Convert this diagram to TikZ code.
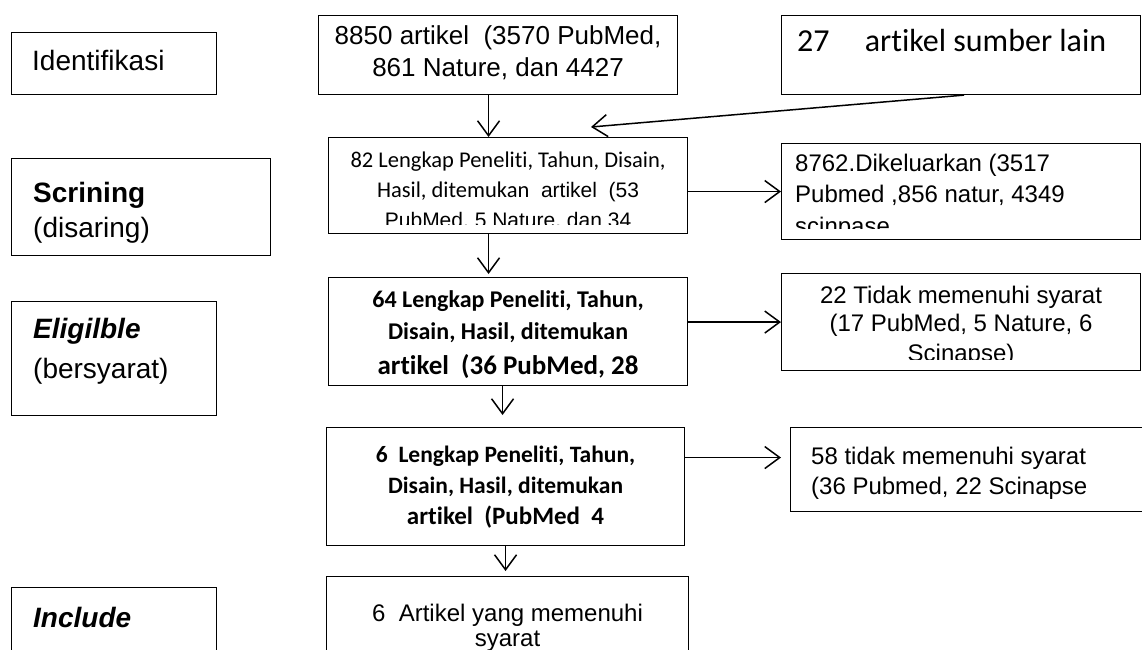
\documentclass[tikz,border=0pt]{standalone}
\usepackage{fontspec}
\setmainfont{Liberation Sans}
\newfontfamily\calibri[Ligatures=NoCommon,RawFeature=-liga,RawFeature=-clig,RawFeature=-calt]{Carlito}
\usetikzlibrary{positioning,calc,arrows.meta}

\begin{document}
\begin{tikzpicture}[x=1pt,y=-1pt,
    box/.style={draw,line width=1.1pt,inner sep=0pt,anchor=north west},
    arr/.style={line width=1.5pt,-{Straight Barb[length=15pt,width=22pt,line width=1.5pt]}},
    txt/.style={inner sep=0pt,anchor=base,font=\fontsize{24}{28}\selectfont},
    ltxt/.style={txt,anchor=base west},
    lbl/.style={inner sep=0pt,anchor=base west,font=\fontsize{28}{32}\selectfont}]

    \useasboundingbox (0,0) rectangle (1142,649);

    % left column
    \node[box,minimum width=205pt,minimum height=62pt] (ident) at (11,32) {};
    \node[box,minimum width=259pt,minimum height=97pt] (scr) at (11,158) {};
    \node[box,minimum width=205pt,minimum height=114pt] (elig) at (11,301) {};
    \node[box,minimum width=205pt,minimum height=70pt] (incl) at (11,587) {};

    \node[lbl] (tident) at ($(ident.north west)+(21,38)$) {Identifikasi};
    \node[lbl] (tscr1) at ($(scr.north west)+(22,44)$) {\textbf{Scrining}};
    \node[lbl] (tscr2) at ($(scr.north west)+(22,79)$) {(disaring)};
    \node[lbl] (telig1) at ($(elig.north west)+(22,37)$) {\textbf{\textit{Eligilble}}};
    \node[lbl] (telig2) at ($(elig.north west)+(22,77)$) {(bersyarat)};
    \node[lbl] (tincl) at ($(incl.north west)+(22,40)$) {\textbf{\textit{Include}}};

    % middle column
    \node[box,minimum width=359pt,minimum height=79pt] (n8850) at (318,15) {};
    \node[box,minimum width=359pt,minimum height=96pt] (n82) at (328,137) {};
    \node[box,minimum width=359pt,minimum height=108pt] (n64) at (328,277) {};
    \node[box,minimum width=358pt,minimum height=118pt] (n6) at (326,427) {};
    \node[box,minimum width=362pt,minimum height=80pt] (nfinal) at (326,576) {};

    \node[txt,font=\fontsize{26}{30}\selectfont] (t8850a) at ($(n8850.north)+(0,29)$) {8850 artikel\ \ (3570 PubMed,};
    \node[txt,font=\fontsize{26}{30}\selectfont] (t8850b) at ($(n8850.north)+(0,61)$) {861 Nature, dan 4427};

    \node[txt,font=\calibri\fontsize{22.5}{27}\selectfont] (t82a) at ($(n82.north)+(0,30)$) {82 Lengkap Peneliti, Tahun, Disain,};
    \node[txt,font=\fontsize{21}{25}\selectfont] (t82b) at ($(n82.north)+(0,60)$) {{\calibri\fontsize{22.5}{27}\selectfont Hasil, ditemukan}\ \ artikel\ \ (53};
    \begin{scope}
        \clip (n82.north west) rectangle ($(n82.south east)+(0,-10)$);
        \node[txt,font=\fontsize{21}{25}\selectfont] (t82c) at ($(n82.north)+(0,90)$) {PubMed, 5 Nature, dan 34};
    \end{scope}

    \node[txt,font=\calibri\bfseries\fontsize{24}{28}\selectfont] (t64a) at ($(n64.north)+(0,30)$) {64 Lengkap Peneliti, Tahun,};
    \node[txt,font=\calibri\bfseries\fontsize{24}{28}\selectfont] (t64b) at ($(n64.north)+(0,62)$) {Disain, Hasil, ditemukan};
    \begin{scope}
        \clip (n64.north west) rectangle ($(n64.south east)+(0,-8)$);
        \node[txt,font=\calibri\bfseries\fontsize{27}{31}\selectfont] (t64c) at ($(n64.north)+(0,97)$) {artikel\ \ (36 PubMed, 28};
    \end{scope}

    \node[txt,font=\calibri\bfseries\fontsize{23.5}{27}\selectfont] (t6a) at ($(n6.north)+(0,35)$) {6\ \ Lengkap Peneliti, Tahun,};
    \node[txt,font=\calibri\bfseries\fontsize{23.5}{27}\selectfont] (t6b) at ($(n6.north)+(0,66)$) {Disain, Hasil, ditemukan};
    \node[txt,font=\calibri\bfseries\fontsize{25}{29}\selectfont] (t6c) at ($(n6.north)+(0,97)$) {artikel\ \ (PubMed\ \ 4};

    \node[txt] (tfinala) at ($(nfinal.north)+(0,45)$) {6\ \ Artikel yang memenuhi};
    \node[txt] (tfinalb) at ($(nfinal.north)+(0,70)$) {syarat};

    % right column
    \node[box,minimum width=359pt,minimum height=79pt] (n27) at (781,15) {};
    \node[box,minimum width=359pt,minimum height=96pt] (n8762) at (781,143) {};
    \node[box,minimum width=359pt,minimum height=97pt] (n22) at (781,273) {};
    \node[box,minimum width=360pt,minimum height=84pt] (n58) at (790,427) {};

    \node[ltxt,font=\calibri\fontsize{32}{36}\selectfont] (t27) at ($(n27.north west)+(16,36)$) {27\hspace{1.1em}artikel sumber lain};

    \node[ltxt] (t8762a) at ($(n8762.north west)+(14,28)$) {8762.Dikeluarkan (3517};
    \node[ltxt] (t8762b) at ($(n8762.north west)+(14,59)$) {Pubmed ,856 natur, 4349};
    \begin{scope}
        \clip (n8762.north west) rectangle ($(n8762.south east)+(0,-12)$);
        \node[ltxt] (t8762c) at ($(n8762.north west)+(14,91)$) {scinpase};
    \end{scope}

    \node[txt] (t22a) at ($(n22.north)+(0,30)$) {22 Tidak memenuhi syarat};
    \node[txt] (t22b) at ($(n22.north)+(0,58)$) {(17 PubMed, 5 Nature, 6};
    \begin{scope}
        \clip (n22.north west) rectangle ($(n22.south east)+(0,-12)$);
        \node[txt] (t22c) at ($(n22.north)+(0,88)$) {Scinapse)};
    \end{scope}

    \node[ltxt] (t58a) at ($(n58.north west)+(21,37)$) {58 tidak memenuhi syarat};
    \node[ltxt] (t58b) at ($(n58.north west)+(21,67)$) {(36 Pubmed, 22 Scinapse};

    % arrows
    \coordinate (in27) at (591,127);
    \coordinate (in58) at ([yshift=12pt]n58.west);

    \draw[arr] ([xshift=-9.5pt]n8850.south) -- ([xshift=-9.5pt]n8850.south |- n82.north);
    \draw[arr] ([xshift=3pt]n27.south) -- (in27);
    \draw[arr] (n82.east |- n8762.west) -- (n8762.west);
    \draw[arr,shorten >=3pt] ([xshift=-19.5pt]n82.south) -- ([xshift=-19.5pt]n82.south |- n64.north);
    \draw[arr] (n64.east |- n22.west) -- (n22.west);
    \draw[arr,shorten >=12pt] ([xshift=-5.5pt]n64.south) -- ([xshift=-5.5pt]n64.south |- n6.north);
    \draw[arr,shorten >=9pt] (n6.east |- in58) -- (in58);
    \draw[arr,shorten >=5pt] (n6.south) -- (n6.south |- nfinal.north);

\end{tikzpicture}
\end{document}
